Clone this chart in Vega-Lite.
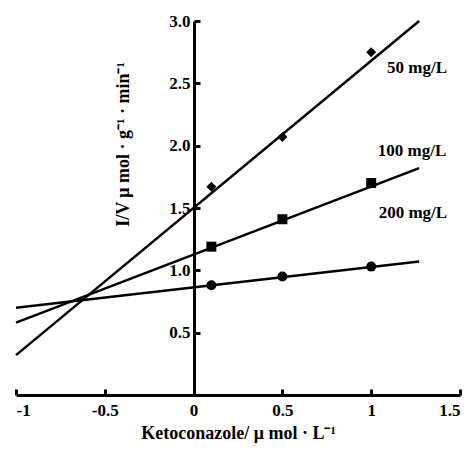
{
  "$schema": "https://vega.github.io/schema/vega-lite/v6.json",
  "width": 444,
  "height": 374,
  "autosize": {"type": "none"},
  "padding": {"left": 16, "top": 21, "right": 12, "bottom": 70},
  "background": "white",
  "config": {
    "font": "Liberation Serif",
    "view": {"stroke": null},
    "axis": {"grid": false, "labelFontWeight": "bold", "titleFontWeight": "bold", "labelColor": "black", "titleColor": "black", "domainColor": "black", "tickColor": "black"}
  },
  "datasets": {
    "points": [
      {"series": "50 mg/L", "x": 0.1, "y": 1.67},
      {"series": "50 mg/L", "x": 0.5, "y": 2.07},
      {"series": "50 mg/L", "x": 1.0, "y": 2.75},
      {"series": "100 mg/L", "x": 0.1, "y": 1.19},
      {"series": "100 mg/L", "x": 0.5, "y": 1.41},
      {"series": "100 mg/L", "x": 1.0, "y": 1.70},
      {"series": "200 mg/L", "x": 0.1, "y": 0.88},
      {"series": "200 mg/L", "x": 0.5, "y": 0.95},
      {"series": "200 mg/L", "x": 1.0, "y": 1.03}
    ],
    "lines": [
      {"series": "50 mg/L", "x": -1.0, "y": 0.32},
      {"series": "50 mg/L", "x": 1.27, "y": 3.0},
      {"series": "100 mg/L", "x": -1.0, "y": 0.58},
      {"series": "100 mg/L", "x": 1.27, "y": 1.82},
      {"series": "200 mg/L", "x": -1.0, "y": 0.70},
      {"series": "200 mg/L", "x": 1.27, "y": 1.07}
    ],
    "labels": [
      {"series": "50 mg/L", "x": 1.258, "y": 2.62},
      {"series": "100 mg/L", "x": 1.23, "y": 1.96},
      {"series": "200 mg/L", "x": 1.235, "y": 1.46}
    ]
  },
  "layer": [
    {
      "data": {"name": "lines"},
      "mark": {"type": "line", "color": "black", "strokeWidth": 2.5},
      "encoding": {
        "x": {
          "field": "x", "type": "quantitative",
          "scale": {"domain": [-1, 1.5], "nice": false, "zero": false},
          "axis": {
            "orient": "bottom",
            "values": [-1, -0.5, 0, 0.5, 1, 1.5],
            "labelExpr": "datum.value + ''",
            "labelFontSize": 17,
            "ticks": true,
            "tickSize": -6,
            "tickWidth": 3,
            "tickColor": "black",
            "tickOpacity": 1,
            "domainWidth": 3,
            "labelPadding": 13,
            "title": "Ketoconazole/ μ mol · L⁻¹",
            "titleFontSize": 18,
            "titleY": 38,
            "titleBaseline": "middle"
          }
        },
        "y": {
          "field": "y", "type": "quantitative",
          "scale": {"domain": [0, 3], "nice": false, "zero": false},
          "axis": {
            "orient": "left",
            "values": [0.5, 1, 1.5, 2, 2.5, 3],
            "format": ".1f",
            "offset": -178,
            "labelFontSize": 17,
            "ticks": true,
            "tickSize": -6,
            "tickWidth": 3,
            "tickColor": "black",
            "tickOpacity": 1,
            "domainWidth": 3,
            "labelPadding": 10,
            "title": "I/V  μ mol · g⁻¹ · min⁻¹",
            "titleFontSize": 18,
            "titleAngle": -90,
            "titleX": -71,
            "titleY": 123,
            "titleAlign": "center",
            "titleBaseline": "middle"
          }
        },
        "detail": {"field": "series"}
      }
    },
    {
      "data": {"name": "points"},
      "mark": {"type": "point", "filled": true, "color": "black", "opacity": 1, "size": 100},
      "encoding": {
        "x": {"field": "x", "type": "quantitative"},
        "y": {"field": "y", "type": "quantitative"},
        "shape": {
          "field": "series", "type": "nominal",
          "scale": {"domain": ["50 mg/L", "100 mg/L", "200 mg/L"], "range": ["diamond", "square", "circle"]},
          "legend": null
        }
      }
    },
    {
      "data": {"name": "labels"},
      "mark": {"type": "text", "font": "Liberation Serif", "fontWeight": "bold", "fontSize": 17, "color": "black"},
      "encoding": {
        "x": {"field": "x", "type": "quantitative"},
        "y": {"field": "y", "type": "quantitative"},
        "text": {"field": "series"}
      }
    }
  ]
}
